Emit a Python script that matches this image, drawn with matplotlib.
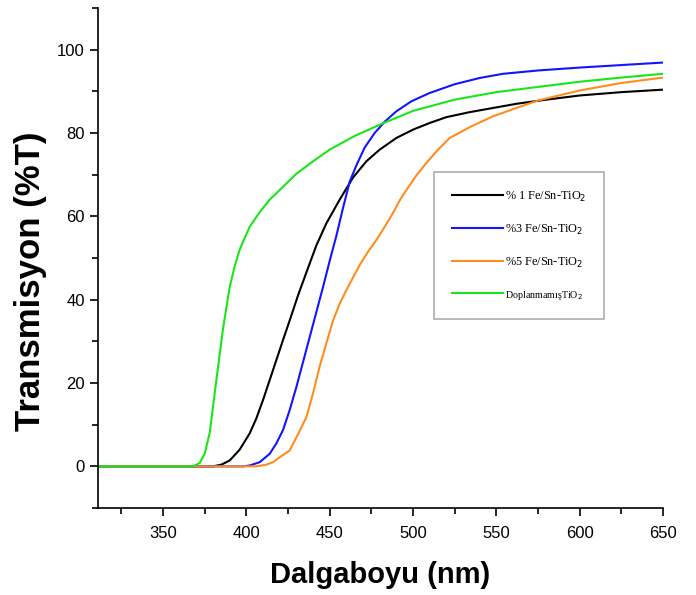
import matplotlib
matplotlib.use('Agg')
import matplotlib.pyplot as plt
from matplotlib.ticker import MultipleLocator

# okunan degerler (dalga boyu nm, gecirgenlik %T)
wl_green = [310, 360, 368, 372, 375, 378, 382, 386, 390, 393, 396, 402, 408, 414, 420,
            430, 440, 450, 465, 483, 500, 525, 550, 574, 600, 625, 650]
t_green = [0, 0, 0, 0.8, 3, 8, 20.7, 33, 43, 48, 52, 57.5, 61, 64, 66.3,
           70.2, 73.2, 76, 79.3, 82.5, 85.3, 88, 89.8, 91, 92.3, 93.3, 94.2]

wl_black = [310, 380, 385, 390, 396, 402, 406, 410, 414, 418, 422, 426, 431, 436, 442,
            448, 456, 464, 472, 480, 490, 500, 510, 520, 534, 548, 562, 580, 600,
            625, 650]
t_black = [0, 0, 0.4, 1.4, 4, 7.9, 11.5, 15.9, 20.7, 25.5, 30.3, 35, 41, 46.5, 53,
           58.3, 64, 69.3, 73.2, 76, 78.8, 80.8, 82.4, 83.8, 85, 86, 87, 88, 89,
           89.8, 90.4]

wl_blue = [310, 398, 402, 408, 414, 418, 422, 426, 430, 434, 438, 442, 446, 450, 454,
           458, 462, 466, 471, 477, 483, 490, 499, 510, 525, 540, 554, 575, 600,
           625, 650]
t_blue = [0, 0, 0.2, 1, 3, 5.5, 8.7, 13.5, 19, 25, 31, 37, 43, 49.3, 55.3,
          62, 68.3, 72.2, 76.5, 80, 82.7, 85.2, 87.6, 89.6, 91.7, 93.2, 94.2, 95,
          95.7, 96.3, 96.9]

wl_orange = [310, 406, 412, 416, 420, 426, 432, 436, 440, 444, 448, 452, 456, 460, 464,
             468, 473, 478, 483, 488, 492, 496, 502, 508, 515, 522, 535, 548, 562,
             575, 600, 625, 650]
t_orange = [0, 0, 0.4, 1, 2.2, 3.8, 8.5, 11.8, 17.5, 24, 29.5, 35, 39, 42.3, 45.3,
            48.3, 51.5, 54.3, 57.5, 60.8, 63.8, 66.3, 69.8, 72.8, 76, 78.8, 81.6,
            84, 86, 87.8, 90.2, 92, 93.3]

fig = plt.figure(figsize=(6.96, 5.95), dpi=100)
ax = fig.add_axes([0.1408, 0.1462, 0.8118, 0.8404])

ax.plot(wl_black, t_black, color='black', linewidth=1.5, label='% 1 Fe/Sn-TiO$_2$')
ax.plot(wl_blue, t_blue, color='#1414ff', linewidth=1.5, label='%3 Fe/Sn-TiO$_2$')
ax.plot(wl_orange, t_orange, color='#ff8c1e', linewidth=1.5, label='%5 Fe/Sn-TiO$_2$')
ax.plot(wl_green, t_green, color='#19e619', linewidth=1.5, label='DoplanmamışTiO$_2$')

ax.set_xlim(311, 650)
ax.set_ylim(-10, 110)
ax.xaxis.set_major_locator(MultipleLocator(50))
ax.xaxis.set_minor_locator(MultipleLocator(25))
ax.yaxis.set_major_locator(MultipleLocator(20))
ax.yaxis.set_minor_locator(MultipleLocator(10))
ax.set_xticks(range(350, 651, 50))

ax.spines['top'].set_visible(False)
ax.spines['right'].set_visible(False)
ax.spines['left'].set_linewidth(1.2)
ax.spines['bottom'].set_linewidth(1.2)
ax.tick_params(which='major', length=6, width=1.2, direction='out')
ax.tick_params(axis='x', which='major', pad=7)
ax.tick_params(which='minor', length=4, width=1.2, direction='out')
for lab in ax.get_xticklabels() + ax.get_yticklabels():
    lab.set_fontfamily('Liberation Sans')
    lab.set_fontsize(12)

ax.set_xlabel('Dalgaboyu (nm)', fontsize=21, fontweight='bold',
              fontfamily='Liberation Sans', labelpad=14)
ax.set_ylabel('Transmisyon (%T)', fontsize=25, fontweight='bold',
              fontfamily='Liberation Sans')
ax.yaxis.set_label_coords(-0.09, 0.454)

leg = ax.legend(loc='upper left', bbox_to_anchor=(0.595, 0.672),
                prop={'family': 'Liberation Serif', 'size': 8.8},
                frameon=True, fancybox=False, edgecolor='#999999',
                handlelength=4.2, labelspacing=1.55, borderpad=1.44,
                handletextpad=0.16, borderaxespad=0)
leg.get_frame().set_linewidth(1.2)
leg.get_texts()[3].set_fontsize(7.2)

plt.savefig('out.png', dpi=100)
